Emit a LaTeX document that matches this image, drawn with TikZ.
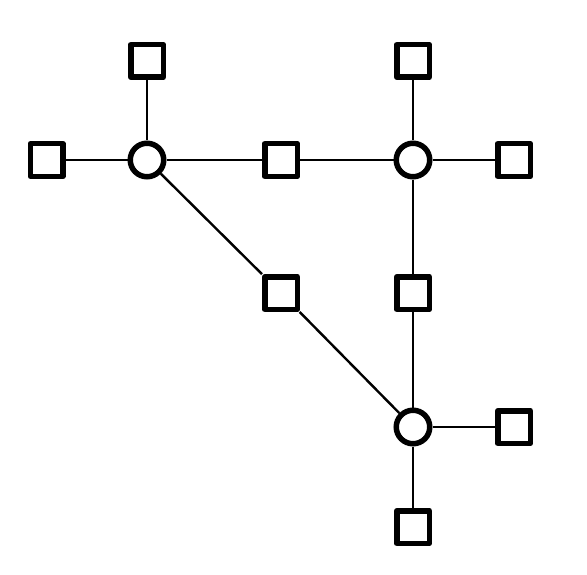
\documentclass[tikz,border=0pt]{standalone}
\begin{document}
\begin{tikzpicture}[x=1bp,y=-1bp,
  square node/.style={rectangle,fill=white,draw,line width=5.5bp,line join=round,minimum size=32.5bp,inner sep=0pt},
  round node/.style={circle,fill=white,draw,line width=5.5bp,minimum size=33.5bp,inner sep=0pt}]
  	\useasboundingbox (0,0) rectangle (587,575);
  	
  	\node[round node] at (147,160) (1) {};
  	\node[round node] at (413,160) (2) {};
  	\node[round node] at (413,427) (3) {};
  	
  	\node[square node] at (147,61) (4) {};
  	\node[square node] at (46.5,160) (5) {};
  	\node[square node] at (281,160) (6) {};
  	
  	\node[square node] at (413,61) (7) {};
  	\node[square node] at (514,160) (8) {};
  	
  	\node[square node] at (281,293) (9) {};
  	\node[square node] at (413,293) (10) {};
  	
  	\node[square node] at (514,427) (11) {};
  	\node[square node] at (413,527) (12) {};
  	
  	\path[-,line width=2.4bp]
  	(4) edge (1)
  	(5) edge (1)
  	(1) edge (6)
  	(6) edge (2)
  	
  	(7) edge (2)
  	(2) edge (8)
  	(2) edge (10)
  	(10) edge (3)
  	
  	(1) edge (9)
  	(9) edge (3)
  	
  	(3) edge (11)
  	(3) edge (12);
\end{tikzpicture}
\end{document}
